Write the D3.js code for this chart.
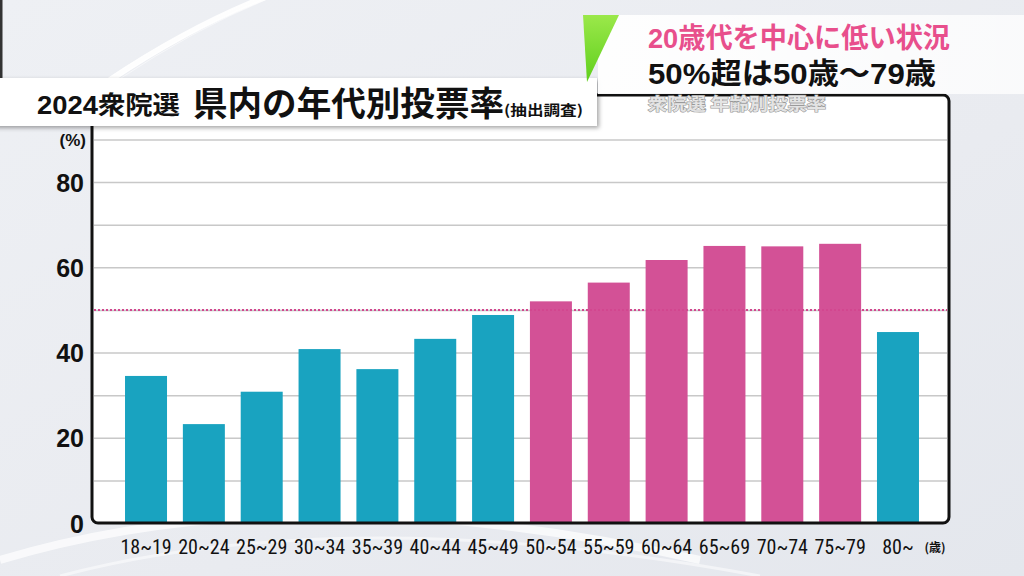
<!DOCTYPE html>
<html><head><meta charset="utf-8">
<script src="https://cdn.jsdelivr.net/npm/d3@7"></script>
<style>
html,body{margin:0;padding:0;background:#eceef2;overflow:hidden}
svg{display:block}
</style></head>
<body>
<svg id="c" width="1024" height="576"></svg>
<script>
// ---- data ----
const categories = ["18~19","20~24","25~29","30~34","35~39","40~44","45~49","50~54","55~59","60~64","65~69","70~74","75~79","80~"];
const turnout = [34.5, 23.2, 30.8, 40.8, 36.1, 43.2, 48.8, 52.0, 56.4, 61.7, 65.0, 64.9, 65.5, 44.8];
const highlighted = ["50~54","55~59","60~64","65~69","70~74","75~79"];
const yTicks = [0, 20, 40, 60, 80];
const gridTicks = [10, 20, 30, 40, 50, 60, 70, 80, 90];
const referenceLine = 50;
const titleMain = "県内の年代別投票率";
const titlePrefix = "2024衆院選";
const titleNote = "(抽出調査)";
const headline1 = "20歳代を中心に低い状況";
const headline2 = "50%超は50歳～79歳";
const watermark = "衆院選  年齢別投票率";

const svg = d3.select("#c");
const defs = svg.append("defs");

// background gradient
const bg = defs.append("linearGradient").attr("id","bg").attr("x1",0).attr("y1",0).attr("x2",1).attr("y2",1);
bg.append("stop").attr("offset","0%").attr("stop-color","#eef0f4");
bg.append("stop").attr("offset","60%").attr("stop-color","#e9ebf0");
bg.append("stop").attr("offset","100%").attr("stop-color","#e4e7ed");
svg.append("rect").attr("width",1024).attr("height",576).attr("fill","url(#bg)");

// decorative soft arcs
const arcs = svg.append("g").attr("fill","none").attr("stroke","#ffffff");
[[420,10,0.9,6],[400,14,0.6,1.5],[385,18,0.5,1],[440,6,0.5,1.5]].forEach(([r,dx,op,w])=>{
  arcs.append("path").attr("d",`M ${100+dx} 80 Q ${250+dx} -20 ${350+dx+r/10} -40`).attr("stroke-opacity",op).attr("stroke-width",w);
});
arcs.append("path").attr("d","M 0 560 Q 300 470 700 560").attr("stroke-opacity",0.7).attr("stroke-width",8);
arcs.append("path").attr("d","M 60 576 Q 350 500 760 576").attr("stroke-opacity",0.5).attr("stroke-width",3);

// shadow filter
const f = defs.append("filter").attr("id","sh").attr("x","-10%").attr("y","-30%").attr("width","130%").attr("height","180%");
f.append("feDropShadow").attr("dx",2).attr("dy",2).attr("stdDeviation",2).attr("flood-color","#000").attr("flood-opacity",0.35);

// ---- chart geometry ----
const plot = {x0: 92, x1: 949, y0: 95, y1: 523};
const x = d3.scaleBand().domain(categories).range([117.1, 926.9]).paddingInner(0.274).paddingOuter(0.137);
const y = d3.scaleLinear().domain([0, 80]).range([523, 182]);

// frame
svg.append("rect").attr("x",plot.x0).attr("y",plot.y0).attr("width",plot.x1-plot.x0).attr("height",plot.y1-plot.y0)
  .attr("rx",6).attr("fill","#ffffff");

// grid
const grid = d3.axisLeft(y).tickValues(gridTicks).tickSize(-(plot.x1-plot.x0-4)).tickFormat("");
const gg = svg.append("g").attr("transform",`translate(${plot.x0+2},0)`).call(grid);
gg.select(".domain").remove();
gg.selectAll("line").attr("stroke","#c8c8c8").attr("stroke-width",1.5);

// bars
svg.append("g").selectAll("rect").data(categories).join("rect")
  .attr("x", d => x(d))
  .attr("width", x.bandwidth())
  .attr("y", (d,i) => y(turnout[i]))
  .attr("height", (d,i) => y(0) - y(turnout[i]))
  .attr("fill", d => highlighted.includes(d) ? "#d35196" : "#19a3c0");

// 50% reference line
svg.append("line").attr("x1",plot.x0+2).attr("x2",plot.x1-2)
  .attr("y1",y(referenceLine)).attr("y2",y(referenceLine))
  .attr("stroke","#d2478f").attr("stroke-width",2).attr("stroke-dasharray","2,2");

// frame stroke
svg.append("rect").attr("x",plot.x0).attr("y",plot.y0).attr("width",plot.x1-plot.x0).attr("height",plot.y1-plot.y0)
  .attr("rx",6).attr("fill","none").attr("stroke","#111").attr("stroke-width",3);

// y axis labels
const ya = d3.axisLeft(y).tickValues(yTicks).tickSize(0).tickPadding(0);
const yg = svg.append("g").attr("transform","translate(84,0)").call(ya);
yg.select(".domain").remove();
yg.selectAll("text").attr("font-family","'Liberation Sans',Arial,sans-serif").attr("font-weight","bold")
  .attr("font-size",25).attr("fill","#111").attr("dy","0.36em");
svg.append("text").attr("x",86).attr("y",146).attr("text-anchor","end")
  .attr("font-family","'Liberation Sans','Noto Sans CJK JP',sans-serif").attr("font-weight","bold")
  .attr("font-size",17).attr("fill","#111").text("(%)");

// x axis labels
const xa = d3.axisBottom(x).tickSize(0).tickPadding(0);
const xg = svg.append("g").call(xa);
xg.attr("transform",`translate(0,${y(0)})`);
xg.select(".domain").remove();
xg.selectAll("text").attr("font-family","'Liberation Sans Narrow','Roboto Condensed',Roboto,sans-serif").attr("font-size",20)
  .attr("fill","#111").attr("dy","0").attr("y",30.5);
svg.append("text").attr("x",935).attr("y",552).attr("text-anchor","middle")
  .attr("font-family","'Noto Sans CJK JP',sans-serif").attr("font-weight","bold").attr("font-size",12)
  .attr("fill","#111").text("(歳)");

// left dark edge
svg.append("rect").attr("x",0).attr("y",0).attr("width",2.5).attr("height",78).attr("fill","#333");

// title box
svg.append("rect").attr("x",-6).attr("y",78).attr("width",603).attr("height",48).attr("fill","#ffffff").attr("filter","url(#sh)");
svg.append("text").attr("x",37).attr("y",114)
  .attr("font-family","'Liberation Sans','Noto Sans CJK JP',sans-serif").attr("font-weight","bold")
  .attr("font-size",25).attr("fill","#111").attr("textLength",143).attr("lengthAdjust","spacingAndGlyphs").text(titlePrefix);
svg.append("text").attr("x",193).attr("y",116)
  .attr("font-family","'Noto Sans CJK JP',sans-serif").attr("font-weight","bold")
  .attr("font-size",34).attr("fill","#111").attr("textLength",311).attr("lengthAdjust","spacingAndGlyphs").text(titleMain);
svg.append("text").attr("x",504).attr("y",115)
  .attr("font-family","'Noto Sans CJK JP',sans-serif").attr("font-weight","bold")
  .attr("font-size",14).attr("fill","#111").attr("textLength",79).attr("lengthAdjust","spacingAndGlyphs").text(titleNote);

// top-right panel
const pg = defs.append("linearGradient").attr("id","pg").attr("x1",0).attr("y1",0).attr("x2",1).attr("y2",0);
pg.append("stop").attr("offset","0%").attr("stop-color","#ffffff").attr("stop-opacity",0.95);
pg.append("stop").attr("offset","100%").attr("stop-color","#ffffff").attr("stop-opacity",0.75);
svg.append("rect").attr("x",598).attr("y",15).attr("width",426).attr("height",79).attr("fill","url(#pg)");
const gr = defs.append("linearGradient").attr("id","gr").attr("x1",0).attr("y1",0).attr("x2",0).attr("y2",1);
gr.append("stop").attr("offset","0%").attr("stop-color","#9be84a");
gr.append("stop").attr("offset","100%").attr("stop-color","#5fcf1c");
svg.append("path").attr("d","M583,15 L619,15 L587,82 Z").attr("fill","url(#gr)");

svg.append("text").attr("x",648).attr("y",48)
  .attr("font-family","'Liberation Sans','Noto Sans CJK JP',sans-serif").attr("font-weight","bold")
  .attr("font-size",28).attr("fill","#e84f8c").attr("textLength",302).attr("lengthAdjust","spacingAndGlyphs").text(headline1);
svg.append("text").attr("x",648).attr("y",84)
  .attr("font-family","'Liberation Sans','Noto Sans CJK JP',sans-serif").attr("font-weight","bold")
  .attr("font-size",29).attr("fill","#111").attr("textLength",288).attr("lengthAdjust","spacingAndGlyphs").text(headline2);
svg.append("text").attr("x",648).attr("y",110)
  .attr("font-family","'Noto Sans CJK JP',sans-serif").attr("font-weight","bold")
  .attr("font-size",17).attr("fill","#e4e4e4").attr("stroke","#9a9a9a").attr("stroke-width",1.2)
  .attr("paint-order","stroke").attr("textLength",178).attr("lengthAdjust","spacingAndGlyphs").text(watermark);
</script>
</body></html>
